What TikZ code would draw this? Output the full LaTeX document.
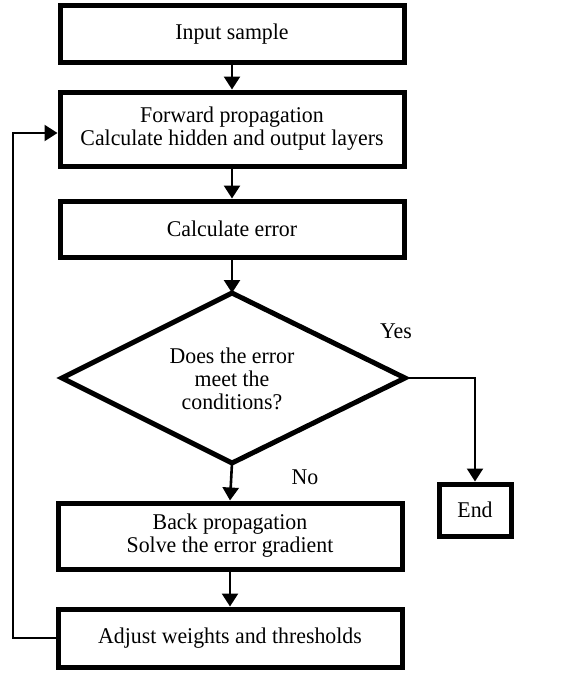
\documentclass[tikz,border=0pt]{standalone}
\usepackage{fontspec}
\setmainfont[FakeStretch=0.97]{Liberation Serif}
\usetikzlibrary{arrows.meta,shapes.geometric}
\begin{document}
\begin{tikzpicture}[x=1pt,y=-1pt,
  txt/.style={font=\fontsize{22.5}{23}\selectfont},
  box/.style={draw,line width=5pt,minimum width=344pt,align=center,txt,inner sep=0pt},
  arr/.style={line width=2.6pt,-{Triangle[length=13pt,width=16pt]}},
  lbl/.style={txt}]
\useasboundingbox (0,0) rectangle (571,675);
\node[box,minimum height=57pt] (b1) at (232,34) {Input sample};
\node[box,minimum height=74pt] (b2) at (232,129) {Forward propagation\\Calculate hidden and output layers};
\node[box,minimum height=56pt] (b3) at (232,229) {Calculate error};
\coordinate (dt) at (232,293);
\coordinate (dl) at (62,378);
\coordinate (dr) at (405,378);
\coordinate (db) at (232,463);
\draw[line width=5pt,line join=miter] (dt) -- (dr) -- (db) -- (dl) -- cycle;
\node[align=center,txt] (d) at (232,379) {Does the error\\meet the\\conditions?};
\node[box,minimum width=72pt,minimum height=52pt] (end) at (475,510) {End};
\node[box,minimum height=66pt] (b4) at (230,536) {Back propagation\\Solve the error gradient};
\node[box,minimum height=58pt] (b5) at (230,638) {Adjust weights and thresholds};
\node[lbl] (yes) at (396,331) {Yes};
\node[lbl] (no) at (305,477) {No};
\draw[arr] (b1.south -| 232,0) -- (b2.north -| 232,0);
\draw[arr] (b2.south -| 232,0) -- (b3.north -| 232,0);
\draw[arr] (b3.south -| 232,0) -- (dt);
\draw[arr] (db) -- (b4.north -| 230,0);
\draw[arr] (b4.south -| 230,0) -- (b5.north -| 230,0);
\draw[arr,line width=2.2pt] (dr) -| (end.north);
\draw[arr,line width=2.2pt] (b5.west) -- (13,638) |- (b2.west |- 0,133);
\end{tikzpicture}
\end{document}
